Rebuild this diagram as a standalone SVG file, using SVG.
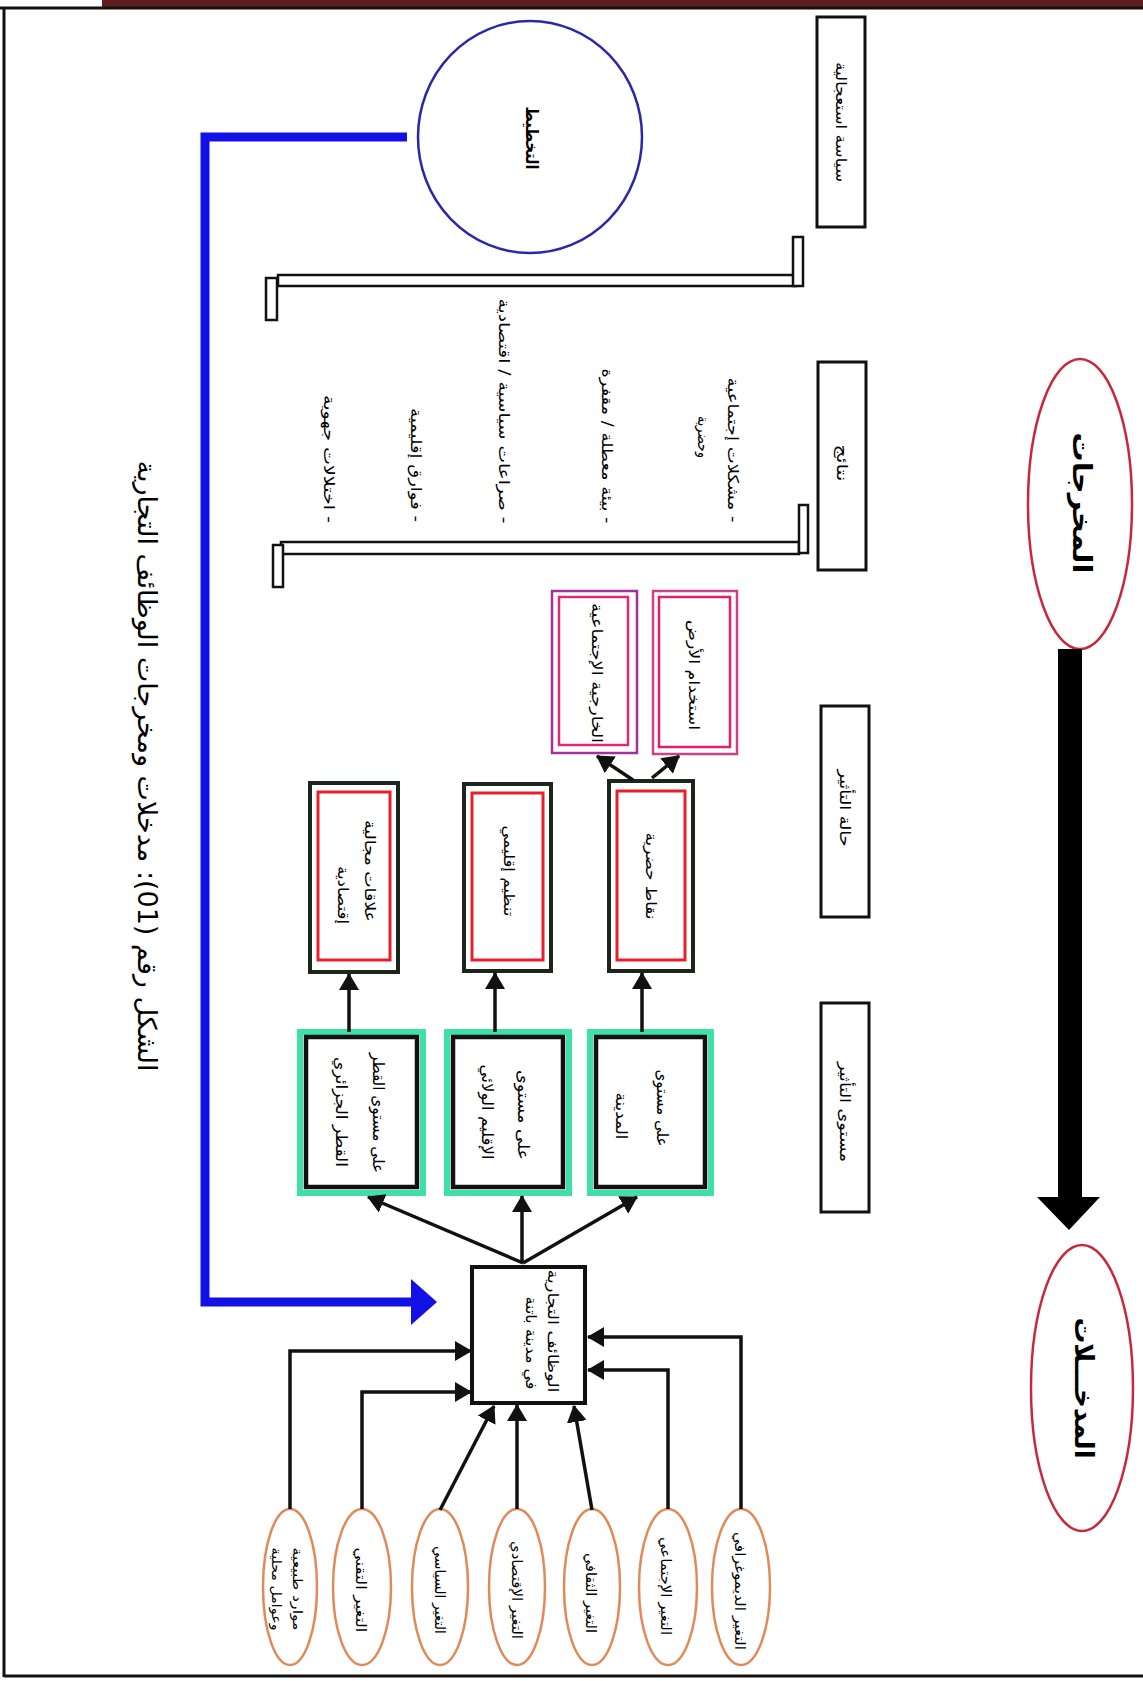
<svg xmlns="http://www.w3.org/2000/svg" width="1143" height="1681" viewBox="0 0 1143 1681">
<defs>
<style>
.t{font-family:'DejaVu Sans',sans-serif;fill:#000;text-anchor:middle;dominant-baseline:central;direction:rtl;unicode-bidi:embed}
.s13{font-size:13px}.s14{font-size:14px}.s15{font-size:15px}.s16{font-size:16px}
.hdr{fill:#fff;stroke:#111;stroke-width:3}
.brk{fill:#fff;stroke:#111;stroke-width:2.5}
.con{fill:none;stroke:#111;stroke-width:3.5}
.inp{fill:#fff;stroke:#e08a58;stroke-width:2.5}
.grnO{fill:#fff;stroke:#3fe0a8;stroke-width:6}
.grnI{fill:none;stroke:#111;stroke-width:4.5}
.redO{fill:#fff;stroke:#1a261a;stroke-width:4}
.redI{fill:none;stroke:#e8202c;stroke-width:3}
</style>
<marker id="ah" markerUnits="userSpaceOnUse" markerWidth="18" markerHeight="20" refX="16" refY="10" orient="auto">
<path d="M0,0 L17,10 L0,20 z" fill="#111"/>
</marker>
</defs>
<rect x="0" y="0" width="1143" height="1681" fill="#fff"/>
<!-- page frame -->
<g id="frame">
<rect x="102" y="0" width="1041" height="7" fill="#5e1e1e"/>
<line x1="0" y1="8" x2="1143" y2="8" stroke="#111" stroke-width="3"/>
<line x1="4" y1="8" x2="4" y2="1677" stroke="#111" stroke-width="3"/>
<line x1="4" y1="1676" x2="1143" y2="1676" stroke="#111" stroke-width="3"/>
</g>

<!-- right column ellipses -->
<g id="node-outputs">
<ellipse cx="1080" cy="504" rx="52" ry="145" fill="#fff" stroke="#c8283a" stroke-width="2.5"/>
<text class="t" font-size="26" font-weight="bold" transform="translate(1082,503) rotate(90)" textLength="141" lengthAdjust="spacingAndGlyphs">المخرجات</text>
</g>
<g id="node-inputs">
<ellipse cx="1082" cy="1388" rx="51" ry="143" fill="#fff" stroke="#c8283a" stroke-width="2.5"/>
<text class="t" font-size="26" font-weight="bold" transform="translate(1084,1388) rotate(90)" textLength="141" lengthAdjust="spacingAndGlyphs">المدخـــلات</text>
</g>

<!-- header boxes -->
<g id="node-urgent-policy">
<rect class="hdr" x="817" y="17" width="48" height="210"/>
<text class="t s15" transform="translate(841,122) rotate(90)" textLength="120" lengthAdjust="spacingAndGlyphs">سياسة استعجالية</text>
</g>
<g id="node-results">
<rect class="hdr" x="818" y="362" width="48" height="208"/>
<text class="t s15" transform="translate(842,463) rotate(90)" textLength="37" lengthAdjust="spacingAndGlyphs">نتائج</text>
</g>
<g id="node-impact-state">
<rect class="hdr" x="821" y="706" width="48" height="211"/>
<text class="t s15" transform="translate(845,808) rotate(90)" textLength="77" lengthAdjust="spacingAndGlyphs">حالة التأثير</text>
</g>
<g id="node-impact-level">
<rect class="hdr" x="821" y="1003" width="48" height="209"/>
<text class="t s15" transform="translate(845,1112) rotate(90)" textLength="100" lengthAdjust="spacingAndGlyphs">مستوى التأثير</text>
</g>

<!-- planning circle -->
<g id="node-planning">
<ellipse cx="530" cy="137" rx="112" ry="116" fill="#fff" stroke="#2a28a8" stroke-width="2.5"/>
<text class="t" font-size="17" font-weight="bold" transform="translate(532,138) rotate(90)" textLength="63" lengthAdjust="spacingAndGlyphs">التخطيط</text>
</g>

<!-- brackets -->
<g id="brackets">
<rect class="brk" x="278" y="275" width="518" height="11"/>
<rect class="brk" x="793" y="237" width="10" height="49"/>
<rect class="brk" x="266" y="278" width="11" height="42"/>
<rect class="brk" x="281" y="542" width="518" height="12"/>
<rect class="brk" x="799" y="505" width="9" height="48"/>
<rect class="brk" x="273" y="545" width="10" height="42"/>
</g>

<!-- results list -->
<g id="node-results-list">
<text class="t s15" transform="translate(733,450) rotate(90)" textLength="145" lengthAdjust="spacingAndGlyphs">- مشكلات إجتماعية</text>
<text class="t s15" transform="translate(703,437) rotate(90)" textLength="42" lengthAdjust="spacingAndGlyphs">وحضرية</text>
<text class="t s15" transform="translate(607,446) rotate(90)" textLength="155" lengthAdjust="spacingAndGlyphs">- بيئة معطلة / مقفرة</text>
<text class="t s15" transform="translate(504,411) rotate(90)" textLength="225" lengthAdjust="spacingAndGlyphs">- صراعات سياسية / اقتصادية</text>
<text class="t s15" transform="translate(416,465) rotate(90)" textLength="114" lengthAdjust="spacingAndGlyphs">- فوارق إقليمية</text>
<text class="t s15" transform="translate(329,459) rotate(90)" textLength="128" lengthAdjust="spacingAndGlyphs">- اختلالات جهوية</text>
</g>

<!-- purple boxes -->
<g id="node-land-use">
<rect x="653" y="591" width="84" height="163" fill="#fff" stroke="#d0408a" stroke-width="2.5"/>
<rect x="659" y="597" width="71" height="150" fill="none" stroke="#e0206a" stroke-width="2.5"/>
<text class="t s15" transform="translate(694,675) rotate(90)" textLength="110" lengthAdjust="spacingAndGlyphs">استخدام الأرض</text>
</g>
<g id="node-social-external">
<rect x="552" y="591" width="85" height="162" fill="#fff" stroke="#a0309a" stroke-width="2.5"/>
<rect x="559" y="597" width="69" height="148" fill="none" stroke="#d82a78" stroke-width="2.5"/>
<text class="t s15" transform="translate(597,673) rotate(90)" textLength="140" lengthAdjust="spacingAndGlyphs">الخارجية الإجتماعية</text>
</g>

<!-- red boxes -->
<g id="node-urban-points">
<rect class="redO" x="609" y="781" width="84" height="190"/>
<rect class="redI" x="617" y="791" width="68" height="169"/>
<text class="t s15" transform="translate(651,876) rotate(90)" textLength="87" lengthAdjust="spacingAndGlyphs">نقاط حضرية</text>
</g>
<g id="node-regional-org">
<rect class="redO" x="464" y="784" width="87" height="187"/>
<rect class="redI" x="472" y="793" width="71" height="167"/>
<text class="t s15" transform="translate(509,871) rotate(90)" textLength="91" lengthAdjust="spacingAndGlyphs">تنظيم إقليمي</text>
</g>
<g id="node-economic-relations">
<rect class="redO" x="310" y="783" width="88" height="189"/>
<rect class="redI" x="318" y="792" width="72" height="168"/>
<text class="t s15" transform="translate(370,871) rotate(90)" textLength="102" lengthAdjust="spacingAndGlyphs">علاقات مجالية</text>
<text class="t s15" transform="translate(343,895) rotate(90)" textLength="58" lengthAdjust="spacingAndGlyphs">إقتصادية</text>
</g>

<!-- green boxes -->
<g id="node-city-level">
<rect class="grnO" x="590" y="1032" width="121" height="161"/>
<rect class="grnI" x="596" y="1037" width="109" height="150"/>
<text class="t s16" transform="translate(662,1108) rotate(90)" textLength="77" lengthAdjust="spacingAndGlyphs">على مستوى</text>
<text class="t s16" transform="translate(621,1116) rotate(90)" textLength="47" lengthAdjust="spacingAndGlyphs">المدينة</text>
</g>
<g id="node-province-level">
<rect class="grnO" x="447" y="1032" width="122" height="161"/>
<rect class="grnI" x="453" y="1037" width="110" height="150"/>
<text class="t s16" transform="translate(523,1115) rotate(90)" textLength="90" lengthAdjust="spacingAndGlyphs">على مستوى</text>
<text class="t s16" transform="translate(487,1112) rotate(90)" textLength="95" lengthAdjust="spacingAndGlyphs">الإقليم الولائي</text>
</g>
<g id="node-country-level">
<rect class="grnO" x="300" y="1032" width="123" height="161"/>
<rect class="grnI" x="306" y="1037" width="111" height="150"/>
<text class="t s16" transform="translate(378,1113) rotate(90)" textLength="120" lengthAdjust="spacingAndGlyphs">على مستوى القطر</text>
<text class="t s16" transform="translate(341,1112) rotate(90)" textLength="110" lengthAdjust="spacingAndGlyphs">القطر الجزائري</text>
</g>

<!-- central box -->
<g id="node-commercial-functions">
<rect x="472" y="1267" width="113" height="136" fill="#fff" stroke="#111" stroke-width="4"/>
<text class="t s15" transform="translate(553,1331) rotate(90)" textLength="123" lengthAdjust="spacingAndGlyphs">الوظائف التجارية</text>
<text class="t s15" transform="translate(531,1343) rotate(90)" textLength="93" lengthAdjust="spacingAndGlyphs">في مدينة باتنة</text>
</g>

<!-- input ellipses -->
<g id="node-natural-resources">
<ellipse class="inp" cx="290" cy="1587" rx="27" ry="78"/>
<text class="t s13" transform="translate(297,1589) rotate(90)" textLength="83" lengthAdjust="spacingAndGlyphs">موارد طبيعية</text>
<text class="t s13" transform="translate(276,1589) rotate(90)" textLength="83" lengthAdjust="spacingAndGlyphs">وعوامل محلية</text>
</g>
<g id="node-tech-change">
<ellipse class="inp" cx="362" cy="1587" rx="29" ry="78"/>
<text class="t s14" transform="translate(361,1590) rotate(90)" textLength="85" lengthAdjust="spacingAndGlyphs">التغير التقني</text>
</g>
<g id="node-political-change">
<ellipse class="inp" cx="440" cy="1587" rx="28" ry="78"/>
<text class="t s14" transform="translate(440,1590) rotate(90)" textLength="88" lengthAdjust="spacingAndGlyphs">التغير السياسي</text>
</g>
<g id="node-economic-change">
<ellipse class="inp" cx="517" cy="1587" rx="28" ry="78"/>
<text class="t s14" transform="translate(517,1590) rotate(90)" textLength="98" lengthAdjust="spacingAndGlyphs">التغير الإقتصادي</text>
</g>
<g id="node-cultural-change">
<ellipse class="inp" cx="592" cy="1587" rx="28" ry="78"/>
<text class="t s14" transform="translate(591,1593) rotate(90)" textLength="80" lengthAdjust="spacingAndGlyphs">التغير الثقافي</text>
</g>
<g id="node-social-change">
<ellipse class="inp" cx="668" cy="1587" rx="29" ry="78"/>
<text class="t s14" transform="translate(666,1586) rotate(90)" textLength="98" lengthAdjust="spacingAndGlyphs">التغير الإجتماعي</text>
</g>
<g id="node-demographic-change">
<ellipse class="inp" cx="741" cy="1587" rx="29" ry="78"/>
<text class="t s14" transform="translate(740,1591) rotate(90)" textLength="118" lengthAdjust="spacingAndGlyphs">التغير الديموغرافي</text>
</g>

<!-- caption -->
<g id="caption">
<text class="t" font-size="26" transform="translate(147,766) rotate(90)" textLength="611" lengthAdjust="spacingAndGlyphs">الشكل رقم (01): مدخلات ومخرجات الوظائف التجارية</text>
</g>

<!-- connectors -->
<g id="connectors">
<rect x="1058" y="649" width="24" height="550" fill="#000"/>
<polygon points="1037,1197 1100,1197 1069,1230" fill="#000"/>
<path d="M407,137 H205 V1302 H413" fill="none" stroke="#1212e6" stroke-width="9"/>
<polygon points="411,1279 411,1325 437,1302" fill="#1212e6"/>
<line class="con" x1="523" y1="1263" x2="368" y2="1197" marker-end="url(#ah)"/>
<line class="con" x1="522" y1="1263" x2="522" y2="1196" marker-end="url(#ah)"/>
<line class="con" x1="523" y1="1263" x2="637" y2="1197" marker-end="url(#ah)"/>
<line class="con" x1="349" y1="1032" x2="349" y2="974" marker-end="url(#ah)"/>
<line class="con" x1="495" y1="1032" x2="495" y2="973" marker-end="url(#ah)"/>
<line class="con" x1="642" y1="1032" x2="642" y2="973" marker-end="url(#ah)"/>
<line class="con" x1="633" y1="780" x2="597" y2="756" marker-end="url(#ah)"/>
<line class="con" x1="652" y1="778" x2="679" y2="756" marker-end="url(#ah)"/>
<path class="con" d="M741,1509 V1337 H588" marker-end="url(#ah)"/>
<path class="con" d="M668,1509 V1370 H588" marker-end="url(#ah)"/>
<path class="con" d="M592,1510 L574,1406" marker-end="url(#ah)"/>
<path class="con" d="M517,1509 V1405" marker-end="url(#ah)"/>
<path class="con" d="M440,1510 L494,1406" marker-end="url(#ah)"/>
<path class="con" d="M362,1509 V1392 H471" marker-end="url(#ah)"/>
<path class="con" d="M290,1509 V1351 H471" marker-end="url(#ah)"/>
</g>
</svg>
